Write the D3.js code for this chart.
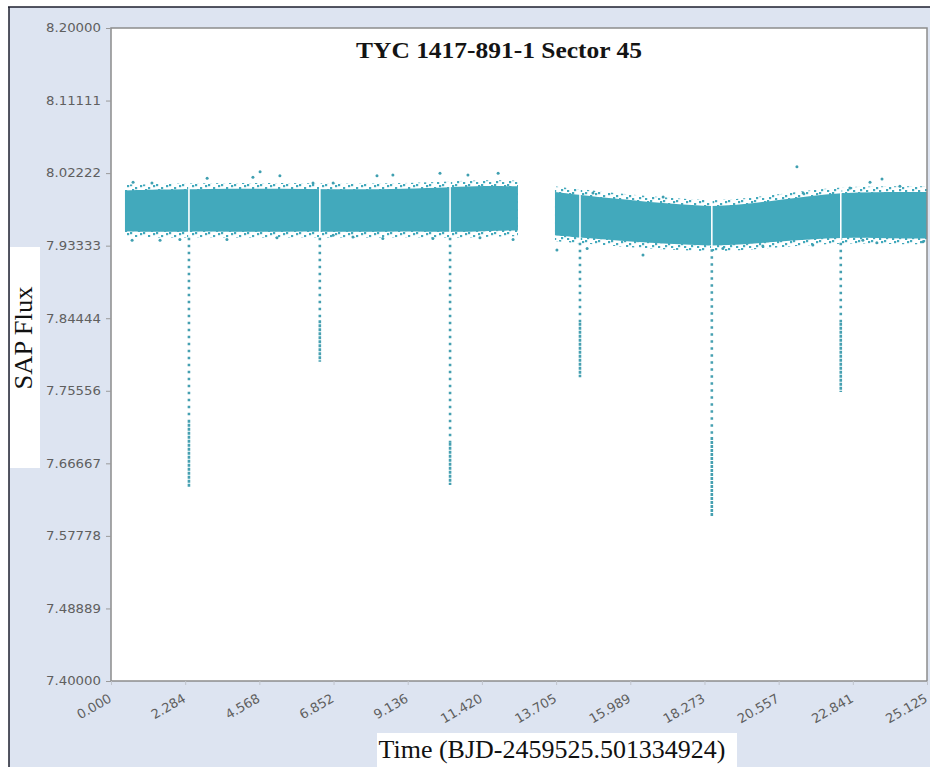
<!DOCTYPE html>
<html>
<head>
<meta charset="utf-8">
<script src="https://cdn.jsdelivr.net/npm/d3@7"></script>
<style>
  body { margin: 0; background: #fff; }
  svg { display: block; }
</style>
</head>
<body>
<div id="graph"></div>
<script>
// light curve values
// dense core of the flux band, first orbit segment
var band1Time = [0.43, 1.5, 3.0, 4.5, 6.0, 7.5, 9.0, 10.5, 11.5, 12.53];
var band1High = [8.001, 8.002, 8.003, 8.003, 8.003, 8.002, 8.003, 8.005, 8.007, 8.006];
var band1Low  = [7.951, 7.950, 7.951, 7.950, 7.951, 7.950, 7.951, 7.950, 7.951, 7.952];

// second segment, after the data gap
var band2Time = [13.67, 14.5, 15.5, 16.5, 17.5, 18.5, 19.5, 20.5, 21.5, 22.5, 23.5, 24.5, 25.4];
var band2High = [7.999, 7.995, 7.991, 7.987, 7.984, 7.981, 7.984, 7.989, 7.994, 7.998, 7.999, 7.999, 7.999];
var band2Low  = [7.946, 7.943, 7.940, 7.937, 7.935, 7.933, 7.935, 7.938, 7.941, 7.943, 7.943, 7.942, 7.942];

// eclipses: time, start of dip, top of the dense run, minimum
var eclipseTime  = [2.40, 6.43, 10.44, 14.44, 18.50, 22.47];
var eclipseStart = [7.946, 7.946, 7.946, 7.940, 7.932, 7.940];
var eclipseDense = [7.720, 7.842, 7.692, 7.839, 7.699, 7.839];
var eclipseMin   = [7.638, 7.791, 7.640, 7.772, 7.601, 7.754];

// scattered points outside the core
var outlierTime = [0.68, 1.26, 2.96, 4.37, 4.59, 5.20, 6.22, 6.84, 8.19, 8.68, 10.13, 10.99, 11.92,
    0.65, 1.51, 2.12, 3.57, 5.11, 6.84, 7.45, 8.37, 9.91, 11.36, 12.38,
    14.84, 17.0, 21.12, 21.31, 22.75, 23.37, 23.74, 24.29,
    13.73, 14.66, 16.38, 18.84, 20.07, 21.61, 23.15, 23.58, 25.0];
var outlierFlux = [8.011, 8.010, 8.016, 8.017, 8.024, 8.019, 8.010, 8.010, 8.019, 8.020, 8.022, 8.020, 8.022,
    7.940, 7.940, 7.941, 7.941, 7.943, 7.946, 7.944, 7.942, 7.942, 7.943, 7.941,
    7.998, 7.993, 8.030, 7.998, 8.004, 8.011, 8.015, 8.006,
    7.928, 7.930, 7.922, 7.930, 7.933, 7.934, 7.940, 7.937, 7.938];

var xTicks = [0.000, 2.284, 4.568, 6.852, 9.136, 11.420, 13.705, 15.989, 18.273, 20.557, 22.841, 25.125];
var yTicks = [8.20000, 8.11111, 8.02222, 7.93333, 7.84444, 7.75556, 7.66667, 7.57778, 7.48889, 7.40000];

var title = "TYC 1417-891-1 Sector 45";
var xTitle = "Time (BJD-2459525.501334924)";
var yTitle = "SAP Flux";

var W = 930, H = 767;
var plot = {left: 111, top: 28, right: 927, bottom: 681};
var teal = "#42a9bc";
var fringe = 0.007; // width of the ragged edge of the band, in flux units

var svg = d3.select("#graph")
    .append("svg")
    .attr("width", W)
    .attr("height", H);

// speckle texture for the band's ragged edges
var pat = svg.append("defs").append("pattern")
    .attr("id", "speckle")
    .attr("patternUnits", "userSpaceOnUse")
    .attr("width", 13).attr("height", 8);
[[0, 0], [5, 3], [10, 1], [2, 5], [8, 6]].forEach(function(p) {
    pat.append("rect")
        .attr("x", p[0]).attr("y", p[1])
        .attr("width", 2.2).attr("height", 2.2)
        .attr("fill", teal);
});

// panel background + dark frame
svg.append("rect")
    .attr("x", 9).attr("y", 7)
    .attr("width", W - 9).attr("height", H - 7)
    .attr("fill", "#dde4f1");
svg.append("line")
    .attr("x1", 8).attr("x2", W).attr("y1", 7).attr("y2", 7)
    .style("stroke", "#1c1f2e").style("stroke-width", 1.5);
svg.append("line")
    .attr("x1", 9).attr("x2", 9).attr("y1", 7).attr("y2", H)
    .style("stroke", "#1c1f2e").style("stroke-width", 1.5);

var x = d3.scaleLinear().domain([0, 25.125]).range([plot.left, plot.right]);
var y = d3.scaleLinear().domain([7.4, 8.2]).range([plot.bottom, plot.top]);

svg.append("rect")
    .attr("x", plot.left).attr("y", plot.top)
    .attr("width", plot.right - plot.left).attr("height", plot.bottom - plot.top)
    .attr("fill", "#fff");

svg.append("clipPath").attr("id", "clip")
    .append("rect")
    .attr("x", plot.left).attr("y", plot.top)
    .attr("width", plot.right - plot.left).attr("height", plot.bottom - plot.top);

var g = svg.append("g").attr("clip-path", "url(#clip)");

var seg1 = band1Time.map(function(t, i) { return {t: t, hi: band1High[i], lo: band1Low[i]}; });
var seg2 = band2Time.map(function(t, i) { return {t: t, hi: band2High[i], lo: band2Low[i]}; });

function bandArea(pad) {
    return d3.area()
        .x(function(d) { return x(d.t); })
        .y0(function(d) { return y(d.lo - pad); })
        .y1(function(d) { return y(d.hi + pad); })
        .curve(d3.curveBasis);
}

// ragged outer edge first, then the solid core over it
g.selectAll(".fringe")
    .data([seg1, seg2])
    .enter().append("path")
    .attr("class", "fringe")
    .attr("d", bandArea(fringe))
    .attr("fill", "url(#speckle)");

g.selectAll(".band")
    .data([seg1, seg2])
    .enter().append("path")
    .attr("class", "band")
    .attr("d", bandArea(0))
    .attr("fill", teal);

var eclipses = eclipseTime.map(function(t, i) {
    return {t: t, start: eclipseStart[i], dense: eclipseDense[i], min: eclipseMin[i]};
});

// thin white gap through the band during each eclipse
g.selectAll(".gap")
    .data(eclipses)
    .enter().append("line")
    .attr("x1", function(d) { return x(d.t); })
    .attr("x2", function(d) { return x(d.t); })
    .attr("y1", function(d) { return y(d.start + 0.07); })
    .attr("y2", function(d) { return y(d.start - 0.002); })
    .style("stroke", "#fff").style("stroke-width", 1.6);

// sparse part of the dip
g.selectAll(".dipSparse")
    .data(eclipses)
    .enter().append("line")
    .attr("x1", function(d) { return x(d.t); })
    .attr("x2", function(d) { return x(d.t); })
    .attr("y1", function(d) { return y(d.start - 0.003); })
    .attr("y2", function(d) { return y(d.dense); })
    .style("stroke", "#46a0b1").style("stroke-width", 2.6)
    .style("stroke-dasharray", "2.5,4.5");

// dense run near the minimum
g.selectAll(".dipDense")
    .data(eclipses)
    .enter().append("line")
    .attr("x1", function(d) { return x(d.t); })
    .attr("x2", function(d) { return x(d.t); })
    .attr("y1", function(d) { return y(d.dense); })
    .attr("y2", function(d) { return y(d.min); })
    .style("stroke", "#46a0b1").style("stroke-width", 2.6)
    .style("stroke-dasharray", "3,1");

g.selectAll(".outlier")
    .data(outlierTime.map(function(t, i) { return {t: t, v: outlierFlux[i]}; }))
    .enter().append("circle")
    .attr("cx", function(d) { return x(d.t); })
    .attr("cy", function(d) { return y(d.v); })
    .attr("r", 1.5)
    .attr("fill", "#3f9fb0");

// plot frame
svg.append("rect")
    .attr("x", plot.left).attr("y", plot.top)
    .attr("width", plot.right - plot.left).attr("height", plot.bottom - plot.top)
    .attr("fill", "none")
    .style("stroke", "#8c8c8c").style("stroke-width", 1.5);

// axes
var yAxis = svg.append("g")
    .attr("transform", "translate(" + plot.left + ",0)")
    .call(d3.axisLeft(y).tickValues(yTicks).tickSize(5).tickPadding(5).tickFormat(d3.format(".5f")));
yAxis.select(".domain").remove();
yAxis.selectAll("line").style("stroke", "#9a9a9a");
yAxis.selectAll("text")
    .style("font-family", "DejaVu Sans").style("font-size", "12px").style("fill", "#5f5f5f")
    .attr("textLength", 55).attr("lengthAdjust", "spacingAndGlyphs");

var xAxis = svg.append("g")
    .attr("transform", "translate(0," + plot.bottom + ")")
    .call(d3.axisBottom(x).tickValues(xTicks).tickSize(4).tickFormat(d3.format(".3f")));
xAxis.select(".domain").remove();
xAxis.selectAll("line").style("stroke", "#c0c4cc");
xAxis.selectAll("text")
    .style("font-family", "DejaVu Sans").style("font-size", "13px").style("fill", "#5f5f5f")
    .attr("text-anchor", "end")
    .attr("dy", null)
    .attr("y", 0)
    .attr("transform", "translate(1,20) rotate(-30)");

// title
svg.append("text")
    .attr("x", 499).attr("y", 58)
    .attr("text-anchor", "middle")
    .attr("textLength", 286).attr("lengthAdjust", "spacingAndGlyphs")
    .style("font-family", "Liberation Serif").style("font-size", "23px")
    .style("font-weight", "bold").style("fill", "#141414")
    .text(title);

// y title box
svg.append("rect")
    .attr("x", 10).attr("y", 247).attr("width", 30).attr("height", 221)
    .attr("fill", "#fff");
svg.append("text")
    .attr("transform", "translate(32,338) rotate(-90)")
    .attr("text-anchor", "middle")
    .attr("textLength", 103).attr("lengthAdjust", "spacingAndGlyphs")
    .style("font-family", "Liberation Serif").style("font-size", "25px").style("fill", "#111")
    .text(yTitle);

// x title box
svg.append("rect")
    .attr("x", 377).attr("y", 733).attr("width", 360).attr("height", 34)
    .attr("fill", "#fff");
svg.append("text")
    .attr("x", 552).attr("y", 758)
    .attr("text-anchor", "middle")
    .attr("textLength", 347).attr("lengthAdjust", "spacingAndGlyphs")
    .style("font-family", "Liberation Serif").style("font-size", "25px").style("fill", "#111")
    .text(xTitle);
</script>
</body>
</html>
